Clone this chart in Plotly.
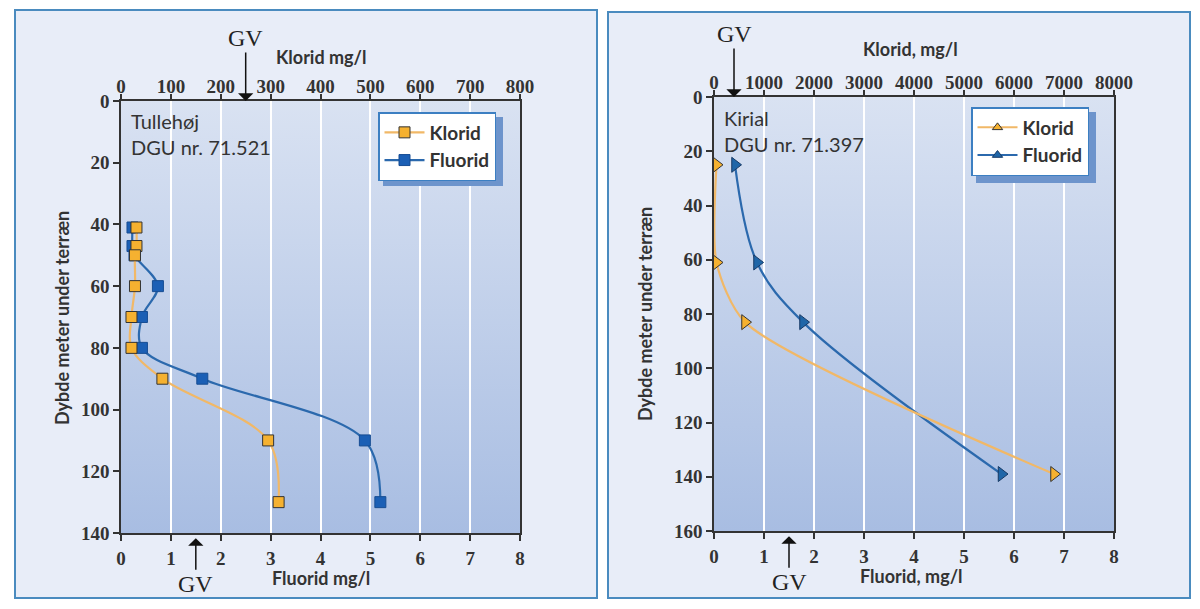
"""Klorid / fluorid depth profiles for two boreholes (Tullehøj and Kirial)."""
import base64

import plotly.graph_objects as go

# ---------------------------------------------------------------------------
# Data
# ---------------------------------------------------------------------------
# Tullehøj, DGU nr. 71.521
tul_depth = [41, 47, 50, 60, 70, 80, 90, 110, 130]
tul_klorid = [31, 31, 28, 28, 21, 21, 83, 295, 316]           # mg/l (top axis)
tul_fluorid = [0.23, 0.23, 0.27, 0.74, 0.42, 0.42, 1.63, 4.89, 5.2]  # mg/l

# Kirial, DGU nr. 71.397
kir_depth = [25, 61, 83, 139]
kir_klorid = [50, 50, 620, 6800]
kir_fluorid = [0.42, 0.86, 1.78, 5.75]

# GV (grænseværdi) markers
gv_klorid_left = 250
gv_klorid_right = 400
gv_fluorid = 1.5

tul_label = "Tullehøj<br>DGU nr. 71.521"
kir_label = "Kirial<br>DGU nr. 71.397"

# ---------------------------------------------------------------------------
# Style
# ---------------------------------------------------------------------------
DARK = "#333333"
ORANGE = "#f5b130"
ORANGE_LINE = "#f1b867"
BLUE = "#1b5fb5"
BLUE_LINE = "#2b69ad"
BLUE_R = "#1f66a8"
FRAME = "#4a8bbf"
SANS = "Lato"
SERIF = "Liberation Serif"

# page body keeps its default 8px margin, so the figure is a bit smaller
OFF = 8
W, H = 1200 - 2 * OFF, 609 - 2 * OFF


def px_x(p):
    """page pixel -> paper x"""
    return (p - OFF) / W


def px_y(p):
    """page pixel -> paper y"""
    return 1 - (p - OFF) / H


def gradient_uri(top, bottom):
    svg = (
        '<svg xmlns="http://www.w3.org/2000/svg" width="100" height="100" '
        'viewBox="0 0 100 100" preserveAspectRatio="none">'
        '<defs><linearGradient id="g" x1="0" y1="0" x2="0" y2="1">'
        f'<stop offset="0" stop-color="{top}"/>'
        f'<stop offset="1" stop-color="{bottom}"/>'
        '</linearGradient></defs>'
        '<rect width="100" height="100" fill="url(#g)"/></svg>'
    )
    return "data:image/svg+xml;base64," + base64.b64encode(svg.encode()).decode()


fig = go.Figure()

# --- left panel ---
fig.add_trace(go.Scatter(
    x=tul_klorid, y=tul_depth, xaxis="x2", yaxis="y", name="Klorid",
    mode="lines+markers", line=dict(color=ORANGE_LINE, width=2.2, shape="spline"),
    marker=dict(symbol="square", size=11, color=ORANGE, line=dict(color=DARK, width=1)),
    legend="legend",
))
fig.add_trace(go.Scatter(
    x=tul_fluorid, y=tul_depth, xaxis="x", yaxis="y", name="Fluorid",
    mode="lines+markers", line=dict(color=BLUE_LINE, width=2.2, shape="spline"),
    marker=dict(symbol="square", size=11, color=BLUE, line=dict(color="#174d93", width=1)),
    legend="legend",
))

# --- right panel ---
fig.add_trace(go.Scatter(
    x=kir_klorid, y=kir_depth, xaxis="x4", yaxis="y2", name="Klorid",
    mode="lines+markers",
    line=dict(color=ORANGE_LINE, width=2.2, shape="spline", smoothing=0.7),
    marker=dict(symbol="triangle-right", size=13, color=ORANGE, line=dict(color=DARK, width=1)),
    showlegend=False,
))
fig.add_trace(go.Scatter(
    x=kir_fluorid, y=kir_depth, xaxis="x3", yaxis="y2", name="Fluorid",
    mode="lines+markers", line=dict(color=BLUE_LINE, width=2.2, shape="spline"),
    marker=dict(symbol="triangle-right", size=13, color=BLUE_R, line=dict(color="#173a66", width=1)),
    showlegend=False,
))
# legend entries for right panel (triangle-up in legend)
fig.add_trace(go.Scatter(
    x=[None], y=[None], xaxis="x4", yaxis="y2", name="Klorid", mode="lines+markers",
    line=dict(color=ORANGE_LINE, width=2),
    marker=dict(symbol="triangle-up", size=9, color=ORANGE, line=dict(color=DARK, width=1)),
    legend="legend2",
))
fig.add_trace(go.Scatter(
    x=[None], y=[None], xaxis="x3", yaxis="y2", name="Fluorid", mode="lines+markers",
    line=dict(color=BLUE_LINE, width=2),
    marker=dict(symbol="triangle-up", size=9, color=BLUE_R, line=dict(color="#173a66", width=1)),
    legend="legend2",
))

tickfont = dict(family=SERIF, size=19, color=DARK, weight="bold")
common_x = dict(
    showline=True, linecolor=DARK, linewidth=1.5, ticks="outside", ticklen=6,
    tickwidth=1.5, tickcolor=DARK, zeroline=False, tickfont=tickfont,
    automargin=False, ticklabelstandoff=1,
)
top_x = dict(common_x, ticklen=5, ticklabelstandoff=-6, showgrid=False, side="top")
common_y = dict(
    showline=True, linecolor=DARK, linewidth=1.5, mirror=True, ticks="outside",
    ticklen=6, tickwidth=1.5, tickcolor=DARK, zeroline=False, showgrid=False,
    tickfont=tickfont, dtick=20, automargin=False,
)

left_dom = [px_x(121), px_x(520)]
right_dom = [px_x(714), px_x(1114)]

legend_font = dict(family=SANS, size=19, color=DARK, weight="bold")
legend_box = dict(xanchor="left", yanchor="top", bgcolor="white",
                  bordercolor="#3c7fc2", borderwidth=1.5, font=legend_font,
                  itemwidth=40)

fig.update_layout(
    width=W, height=H,
    margin=dict(l=0, r=0, t=0, b=0),
    paper_bgcolor="white",
    plot_bgcolor="rgba(0,0,0,0)",
    xaxis=dict(common_x, domain=left_dom, range=[0, 8], dtick=1, anchor="y",
               showgrid=True, gridcolor="white", gridwidth=1.5),
    xaxis2=dict(top_x, range=[0, 800], dtick=100, overlaying="x", anchor="y"),
    yaxis=dict(common_y, domain=[px_y(533), px_y(101)], range=[140, 0], anchor="x"),
    xaxis3=dict(common_x, domain=right_dom, range=[0, 8], dtick=1, anchor="y2",
                showgrid=True, gridcolor="white", gridwidth=1.5),
    xaxis4=dict(top_x, range=[0, 8000], dtick=1000, overlaying="x3", anchor="y2"),
    yaxis2=dict(common_y, domain=[px_y(531), px_y(97)], range=[160, 0], anchor="x3"),
    legend=dict(legend_box, x=px_x(378), y=px_y(112)),
    legend2=dict(legend_box, x=px_x(971), y=px_y(107)),
)

# panel frames
for x0, y0, x1, y1 in [(15, 10, 597, 598), (608, 12, 1190, 598)]:
    fig.add_shape(type="rect", xref="paper", yref="paper", layer="below",
                  x0=px_x(x0), x1=px_x(x1), y0=px_y(y1), y1=px_y(y0),
                  fillcolor="#e8edf8", line=dict(color=FRAME, width=2))

# legend drop shadows (drawn under the legend boxes)
for x0, y0, x1, y1 in [(383, 117, 503, 186), (976, 112, 1096, 183)]:
    fig.add_shape(type="rect", xref="paper", yref="paper", layer="above",
                  x0=px_x(x0), x1=px_x(x1), y0=px_y(y1), y1=px_y(y0),
                  fillcolor="#6d94cc", line=dict(width=0))

# plot-area gradient
for xr, yr in [("x domain", "y domain"), ("x3 domain", "y2 domain")]:
    fig.add_layout_image(
        source=gradient_uri("#d9e2f2", "#a8bde2"), xref=xr, yref=yr,
        x=0, y=1, sizex=1, sizey=1, xanchor="left", yanchor="top",
        sizing="stretch", layer="below",
    )

title_font = dict(family=SANS, size=18, color=DARK, weight="bold")
label_font = dict(family=SANS, size=20, color=DARK)
gv_font = dict(family=SERIF, size=24, color="#222222")
mid = dict(xanchor="center", yanchor="middle", showarrow=False,
           xref="paper", yref="paper", font=title_font)
gv = dict(text="GV", ax=0, showarrow=True, arrowhead=1, arrowsize=1.7,
          arrowwidth=1.5, arrowcolor="#111111", font=gv_font)

ann = [
    dict(text=tul_label, xref="x domain", yref="y domain", x=0.02, y=0.985,
         xanchor="left", yanchor="top", align="left", showarrow=False, font=label_font),
    dict(text=kir_label, xref="x3 domain", yref="y2 domain", x=0.02, y=0.985,
         xanchor="left", yanchor="top", align="left", showarrow=False, font=label_font),
    dict(mid, text="Klorid mg/l", x=px_x(321), y=px_y(57)),
    dict(mid, text="Fluorid mg/l", x=px_x(321), y=px_y(578)),
    dict(mid, text="Dybde meter under terræn", x=px_x(62), y=px_y(318), textangle=-90),
    dict(mid, text="Klorid, mg/l", x=px_x(910), y=px_y(49)),
    dict(mid, text="Fluorid, mg/l", x=px_x(911), y=px_y(576)),
    dict(mid, text="Dybde meter under terræn", x=px_x(645), y=px_y(314), textangle=-90),
    # GV arrows
    dict(gv, x=gv_klorid_left, xref="x2", y=1, yref="y domain", ay=-63),
    dict(gv, x=gv_fluorid, xref="x", y=-0.012, yref="y domain", ay=46),
    dict(gv, x=gv_klorid_right, xref="x4", y=1, yref="y2 domain", ay=-63),
    dict(gv, x=gv_fluorid, xref="x3", y=-0.012, yref="y2 domain", ay=46),
]
for a in ann:
    fig.add_annotation(**a)

fig.write_html("out.html")
